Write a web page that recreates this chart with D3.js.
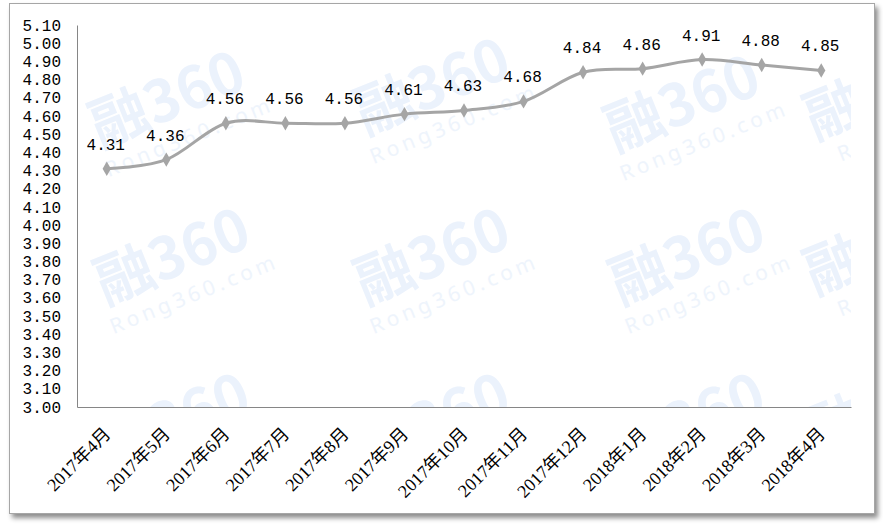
<!DOCTYPE html>
<html>
<head>
<meta charset="utf-8">
<script src="https://cdn.jsdelivr.net/npm/d3@7"></script>
<style>
  html, body { margin: 0; padding: 0; background: #ffffff; }
  svg { display: block; }
</style>
</head>
<body>
<svg id="chart" width="883" height="530"></svg>
<script>
// ---- data ----
const categories = ["2017年4月","2017年5月","2017年6月","2017年7月","2017年8月","2017年9月","2017年10月","2017年11月","2017年12月","2018年1月","2018年2月","2018年3月","2018年4月"];
const values = [4.31, 4.36, 4.56, 4.56, 4.56, 4.61, 4.63, 4.68, 4.84, 4.86, 4.91, 4.88, 4.85];
const yTicks = [3.00,3.10,3.20,3.30,3.40,3.50,3.60,3.70,3.80,3.90,4.00,4.10,4.20,4.30,4.40,4.50,4.60,4.70,4.80,4.90,5.00,5.10];

// ---- layout ----
const plot = { left: 77, right: 851, top: 25, bottom: 407 };
const svg = d3.select("#chart");

// frame with shadow
const defs = svg.append("defs");
const f = defs.append("filter").attr("id", "shadow").attr("x", "-5%").attr("y", "-5%").attr("width", "110%").attr("height", "112%");
f.append("feDropShadow").attr("dx", 3).attr("dy", 4).attr("stdDeviation", 2.5).attr("flood-color", "#000").attr("flood-opacity", 0.45);
defs.append("clipPath").attr("id", "plotclip").append("rect")
  .attr("x", plot.left).attr("y", plot.top).attr("width", plot.right - plot.left).attr("height", plot.bottom - plot.top);

svg.append("rect").attr("x", 9.5).attr("y", 3.5).attr("width", 865).attr("height", 510)
  .attr("fill", "#fff").attr("stroke", "#a6a6a6").attr("stroke-width", 1).attr("filter", "url(#shadow)");

// scales
const x = d3.scaleBand().domain(categories).range([plot.left, plot.right]);
const y = d3.scaleLinear().domain([3.0, 5.1]).range([plot.bottom, plot.top]);
const cx = d => x(d) + x.bandwidth() / 2;

// watermark (full tiles + partial tiles at the right edge)
const wmCenters = [[175,118],[440,105],[690,122],[180,275],[440,275],[695,275],[180,440],[440,440],[695,440]];
const wmPartial = [[815,140],[815,295],[815,455]];
const wm = svg.append("g").attr("clip-path", "url(#plotclip)");
wmCenters.forEach(([wx, wy]) => {
  const g = wm.append("g").attr("transform", `translate(${wx},${wy}) rotate(-22)`);
  g.append("text").attr("x", 0).attr("y", 0).attr("text-anchor", "middle")
    .attr("font-family", "Noto Sans CJK SC, sans-serif").attr("font-size", 58).attr("font-weight", 700)
    .attr("fill", "#ebf2fc").text("融360");
  g.append("text").attr("x", 6).attr("y", 30).attr("text-anchor", "middle")
    .attr("font-family", "Noto Sans, sans-serif").attr("font-size", 21).attr("letter-spacing", 4)
    .attr("fill", "#eef4fc").text("Rong360.com");
});
wmPartial.forEach(([wx, wy]) => {
  const g = wm.append("g").attr("transform", `translate(${wx},${wy}) rotate(-22)`);
  g.append("text").attr("x", 0).attr("y", 0).attr("text-anchor", "start")
    .attr("font-family", "Noto Sans CJK SC, sans-serif").attr("font-size", 58).attr("font-weight", 700)
    .attr("fill", "#ebf2fc").text("融");
  g.append("text").attr("x", 16).attr("y", 30).attr("text-anchor", "start")
    .attr("font-family", "Noto Sans, sans-serif").attr("font-size", 21)
    .attr("fill", "#eef4fc").text("R");
});

// y axis
const yAxis = svg.append("g").attr("transform", `translate(${plot.left},0)`)
  .call(d3.axisLeft(y).tickValues(yTicks).tickFormat(d3.format(".2f")).tickSize(0).tickPadding(16));
yAxis.select(".domain").attr("stroke", "#868686").attr("stroke-width", 1);
yAxis.selectAll("text").attr("font-family", "Liberation Mono, monospace").attr("font-size", 16).attr("fill", "#000");

// x axis
const xAxis = svg.append("g").attr("transform", `translate(0,${plot.bottom})`)
  .call(d3.axisBottom(x).tickSize(0).tickFormat(d => d));
xAxis.select(".domain").attr("stroke", "#868686").attr("stroke-width", 1);
xAxis.selectAll("text")
  .attr("font-family", "Liberation Serif, Noto Sans CJK SC, serif").attr("font-size", 18).attr("fill", "#000")
  .attr("text-anchor", "end").attr("dy", 0).attr("y", 0)
  .attr("transform", "translate(5,28) rotate(-45)");

// line
const line = d3.line().x((d, i) => cx(categories[i])).y(d => y(d)).curve(d3.curveCatmullRom.alpha(0));
svg.append("path").datum(values).attr("d", line).attr("fill", "none").attr("stroke", "#a5a5a5").attr("stroke-width", 3);

// markers
svg.append("g").selectAll("path").data(values).join("path")
  .attr("transform", (d, i) => `translate(${cx(categories[i])},${y(d)})`)
  .attr("d", d3.symbol().type(d3.symbolDiamond).size(60)).attr("fill", "#a5a5a5");

// labels
svg.append("g").selectAll("text").data(values).join("text")
  .attr("x", (d, i) => cx(categories[i]) - 1).attr("y", d => y(d) - 19)
  .attr("text-anchor", "middle").attr("font-family", "Liberation Mono, monospace").attr("font-size", 16).attr("fill", "#000")
  .text(d => d3.format(".2f")(d));
</script>
</body>
</html>
